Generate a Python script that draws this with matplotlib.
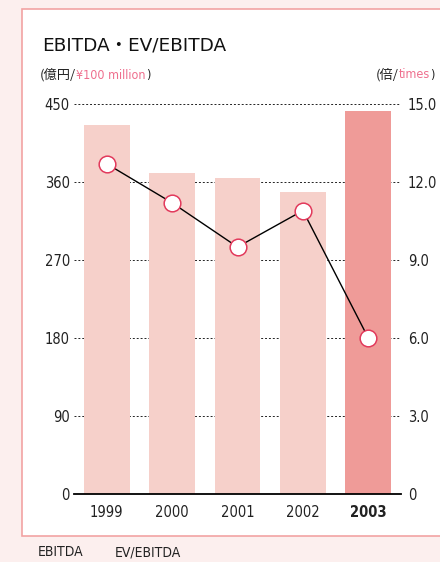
import matplotlib.pyplot as plt
from matplotlib.patches import Rectangle

years = ["1999", "2000", "2001", "2002", "2003"]
ebitda = [426, 370, 365, 348, 442]          # 億円 / ¥100 million
ev_ebitda = [12.7, 11.2, 9.5, 10.9, 6.0]    # 倍 / times
left_ticks = [0, 90, 180, 270, 360, 450]
right_ticks = ["0", "3.0", "6.0", "9.0", "12.0", "15.0"]

bar_light = "#f6d0ca"
bar_dark = "#ef9b98"
pink_txt = "#ef6f8e"
marker_edge = "#e23a5c"
frame_pink = "#f2a3a3"
bg = "#fcefee"

narrow = dict(family=["DejaVu Sans"], fontstretch="condensed")

fig = plt.figure(figsize=(4.4, 5.62), dpi=100)
fig.patch.set_facecolor(bg)

# white panel with pink border
fig.patches.append(Rectangle((22 / 440, 1 - 536 / 562), 430 / 440, 527 / 562,
                             transform=fig.transFigure, facecolor="white",
                             edgecolor=frame_pink, linewidth=1.2, zorder=-10))

ax = fig.add_axes([74 / 440, 1 - 494 / 562, 327 / 440, 390 / 562])
ax.set_facecolor("none")
x = list(range(len(years)))
colors = [bar_light] * 4 + [bar_dark]
ax.bar(x, ebitda, width=0.70, color=colors, zorder=1)

for v in left_ticks[1:]:
    ax.axhline(v, color="#222222", linestyle=(0, (2, 2)), linewidth=0.7, zorder=0.5)

ax.set_xlim(-0.5, 4.5)
ax.set_ylim(0, 450)
for s in ["top", "right", "left"]:
    ax.spines[s].set_visible(False)
ax.spines["bottom"].set_linewidth(1.3)
ax.set_yticks(left_ticks)
ax.set_yticklabels([str(v) for v in left_ticks], fontsize=10.5, **narrow)
ax.set_xticks(x)
ax.set_xticklabels(years, fontsize=10.5, **narrow)
ax.get_xticklabels()[-1].set_fontweight("bold")
ax.tick_params(axis="y", length=0, pad=3, colors="#222222")
ax.tick_params(axis="x", length=0, pad=8, colors="#222222")

ax2 = ax.twinx()
ax2.set_ylim(0, 15)
for s in ["top", "right", "left", "bottom"]:
    ax2.spines[s].set_visible(False)
ax2.set_yticks([0, 3, 6, 9, 12, 15])
ax2.set_yticklabels(right_ticks, fontsize=10.5, **narrow)
ax2.tick_params(axis="y", length=0, pad=5, colors="#222222")
ax2.plot(x, ev_ebitda, color="black", linewidth=1.0, marker="o", markersize=12,
         markerfacecolor="white", markeredgecolor=marker_edge, markeredgewidth=1.1,
         zorder=3)

fig.text(42 / 440, 1 - 45 / 562, "EBITDA・EV/EBITDA", fontsize=13.3,
         family=["DejaVu Sans", "Noto Sans CJK JP"], va="center", color="#111111")

t1 = fig.text(40 / 440, 1 - 75 / 562, "(億円/", family=["Noto Sans CJK JP"],
              fontsize=9.5, va="center", color="#222222")
t2 = ax.annotate("¥100 million", xy=(1, 0), xycoords=t1, va="bottom",
                 fontsize=9, color=pink_txt, annotation_clip=False, **narrow)
ax.annotate(")", xy=(1, 0), xycoords=t2, va="bottom", fontsize=9,
            color="#222222", annotation_clip=False, **narrow)

r3 = fig.text(434 / 440, 1 - 75 / 562, ")", fontsize=9, va="center",
              ha="right", color="#222222", **narrow)
r2 = ax.annotate("times", xy=(0, 0), xycoords=r3, va="bottom", ha="right",
                 fontsize=9, color=pink_txt, annotation_clip=False, **narrow)
ax.annotate("(倍/", xy=(0, 0), xycoords=r2, va="bottom", ha="right",
            family=["Noto Sans CJK JP"], fontsize=9.5, color="#222222",
            annotation_clip=False)

fig.text(38 / 440, 1 - 552 / 562, "EBITDA", fontsize=10, va="center",
         color="#222222", **narrow)
fig.text(115 / 440, 1 - 552 / 562, "EV/EBITDA", fontsize=10, va="center",
         color="#222222", **narrow)

fig.savefig("out.png", dpi=100, facecolor=bg)
